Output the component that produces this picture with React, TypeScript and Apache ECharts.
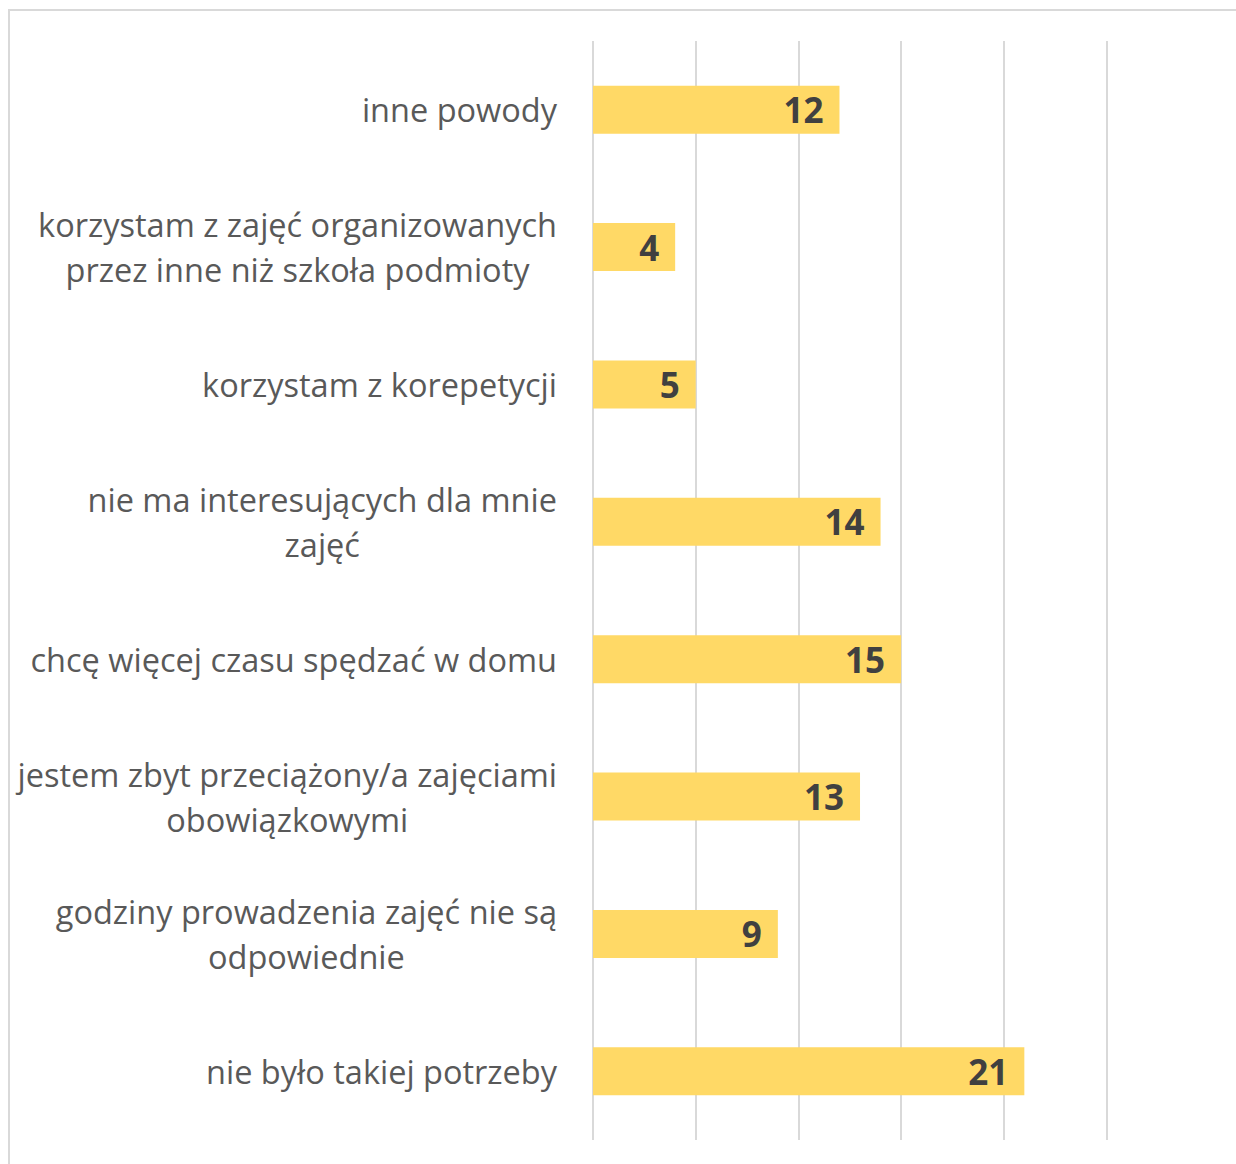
import React, { useEffect, useRef } from "react";
import * as echarts from "echarts";

// bottom-to-top order (ECharts category axis starts at the bottom)
const categories: string[] = [
  "nie było takiej potrzeby",
  "godziny prowadzenia zajęć nie są\nodpowiednie",
  "jestem zbyt przeciążony/a zajęciami\nobowiązkowymi",
  "chcę więcej czasu spędzać w domu",
  "nie ma interesujących dla mnie\nzajęć",
  "korzystam z korepetycji",
  "korzystam z zajęć organizowanych\nprzez inne niż szkoła podmioty",
  "inne powody",
];
const values: number[] = [21, 9, 13, 15, 14, 5, 4, 12];
const xTicks: number[] = [0, 5, 10, 15, 20, 25];

const FONT = "'Open Sans', 'Noto Sans', sans-serif";

export default function App() {
  const ref = useRef<HTMLDivElement>(null);
  useEffect(() => {
    if (!ref.current) return;
    const chart = echarts.init(ref.current, undefined, { renderer: "svg" });
    chart.setOption({
      animation: false,
      backgroundColor: "#ffffff",
      graphic: [
        {
          type: "rect",
          shape: { x: 9, y: 10, width: 3000, height: 3000 },
          style: { fill: "none", stroke: "#d9d9d9", lineWidth: 2 },
          silent: true,
        },
      ],
      grid: { left: 593, right: 129.5, top: 41, bottom: 24, containLabel: false },
      xAxis: {
        type: "value",
        min: xTicks[0],
        max: xTicks[xTicks.length - 1],
        interval: xTicks[1] - xTicks[0],
        axisLabel: { show: false },
        axisLine: { show: false },
        axisTick: { show: false },
        splitLine: { show: true, lineStyle: { color: "#d9d9d9", width: 2 } },
      },
      yAxis: {
        type: "category",
        data: categories,
        axisLine: { show: false },
        axisTick: { show: false },
        axisLabel: {
          margin: 36,
          formatter: (v: string) =>
            v
              .split("\n")
              .map((l) => `{c|${l}}`)
              .join("\n"),
          rich: {
            c: {
              align: "center",
              fontFamily: FONT,
              fontSize: 32.5,
              lineHeight: 45,
              color: "#595959",
            },
          },
        },
      },
      series: [
        {
          type: "bar",
          data: values,
          barWidth: 48,
          itemStyle: { color: "#FFD966" },
          label: {
            show: true,
            position: "insideRight",
            distance: 16,
            fontFamily: FONT,
            fontWeight: "bold",
            fontSize: 35,
            color: "#404040",
          },
        },
      ],
    });
    return () => chart.dispose();
  }, []);
  return (
    <div
      ref={ref}
      style={{ position: "absolute", left: 0, top: 0, width: 1236, height: 1164 }}
    />
  );
}
